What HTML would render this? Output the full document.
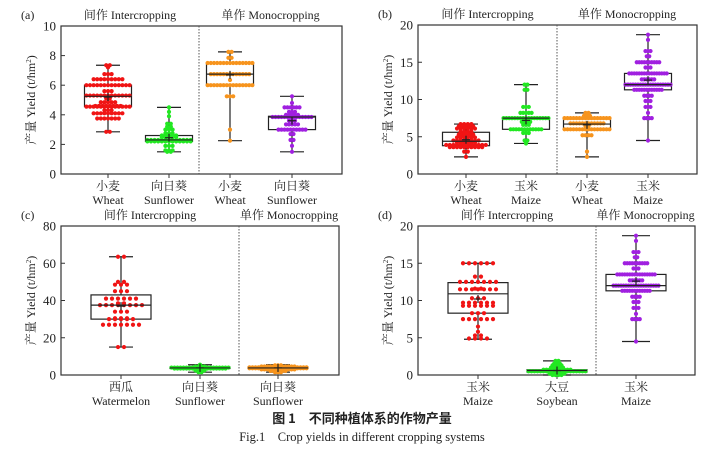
<!DOCTYPE html>
<html><head><meta charset="utf-8"><style>
body{margin:0;background:#fff}
svg{display:block}
text{font-family:"Liberation Serif","Noto Serif CJK SC",serif;fill:#222}
</style></head><body>
<svg id="fig" width="724" height="460" viewBox="0 0 724 460" xmlns="http://www.w3.org/2000/svg">
<text x="362" y="423" text-anchor="middle" font-size="13" font-weight="bold" style="font-family:'Noto Sans CJK SC',sans-serif">图 1　不同种植体系的作物产量</text>
<text x="362" y="441" text-anchor="middle" font-size="12.5">Fig.1　Crop yields in different cropping systems</text>
</svg>
<script>
// ---- data ----
const catsA=[["小麦","Wheat"],["向日葵","Sunflower"],["小麦","Wheat"],["向日葵","Sunflower"]];
const catsB=[["小麦","Wheat"],["玉米","Maize"],["小麦","Wheat"],["玉米","Maize"]];
const catsC=[["西瓜","Watermelon"],["向日葵","Sunflower"],["向日葵","Sunflower"]];
const catsD=[["玉米","Maize"],["大豆","Soybean"],["玉米","Maize"]];
// box stats [min,q1,median,q3,max,mean]
const boxA=[[2.85,4.55,5.25,6.0,7.35,5.2],[1.5,2.2,2.3,2.6,4.5,2.45],[2.25,6.05,6.75,7.5,8.25,6.7],[1.5,3.0,3.85,3.9,5.25,3.6]];
const boxB=[[2.3,3.8,4.4,5.6,6.7,4.6],[4.1,6.0,7.5,7.5,12,7.2],[2.3,6.0,6.7,7.5,8.2,6.6],[4.5,11.3,12.0,13.5,18.7,12.6]];
const boxC=[[15,30,37.5,43,63.5,37],[1.5,3.5,3.8,4.2,5.5,3.8],[1.5,3.5,3.8,4.2,5.5,3.8]];
const boxD=[[4.8,8.3,10.9,12.4,15,10.2],[0,0.4,0.6,0.7,1.9,0.6],[4.5,11.3,12.0,13.5,18.7,12.6]];
// dot values as [value,count]
const dotsA=[
[[7.35,2],[7.2,1],[6.75,3],[6.4,9],[6.0,13],[5.6,3],[5.3,13],[5.1,2],[4.85,5],[4.6,8],[4.55,13],[4.3,3],[4.1,9],[3.75,7],[2.85,2]],
[[4.5,1],[4.2,1],[3.9,1],[3.4,2],[3.2,2],[3.0,3],[2.75,3],[2.6,5],[2.5,5],[2.3,13],[2.2,13],[1.9,3],[1.6,3],[1.5,2]],
[[8.25,2],[7.85,2],[7.5,15],[6.75,13],[6.35,1],[6.0,15],[5.25,3],[3.0,1],[2.25,1]],
[[5.25,1],[4.8,1],[4.5,6],[4.2,3],[4.0,5],[3.85,14],[3.6,3],[3.35,5],[3.0,10],[2.7,2],[2.3,2],[1.9,1],[1.5,1]]];
const dotsB=[
[[6.7,4],[6.4,5],[6.1,6],[5.7,4],[5.3,5],[4.9,6],[4.5,8],[4.2,6],[3.9,12],[3.6,10],[3.0,2],[2.3,1]],
[[12,2],[11.3,2],[9,3],[8.2,5],[7.5,17],[7.0,4],[6.6,3],[6.0,12],[5.5,3],[4.5,2],[4.1,1]],
[[8.2,2],[7.8,3],[7.5,16],[6.8,12],[6.4,2],[6.0,16],[5.2,4],[3.0,1],[2.3,1]],
[[18.7,1],[18,1],[16.5,3],[15.8,2],[15,10],[14.3,3],[13.5,16],[12.7,6],[12.0,19],[11.3,12],[10.5,4],[9.8,3],[9.0,3],[8.2,1],[7.5,4],[4.5,1]]];
const dotsC=[
[[63.5,2],[50,2],[48.5,3],[45,3],[41,6],[38.5,2],[37.5,8],[34,3],[30.5,3],[30,5],[27,7],[15,2]],
[[5.5,1],[4.5,4],[4.0,20],[3.5,18],[2.5,4],[1.5,2]],
[[5.2,3],[4.6,12],[4.1,20],[3.6,20],[3.0,12],[2.2,6],[1.5,3]]];
const dotsD=[
[[15,6],[13.2,2],[12.5,7],[11.6,2],[11.5,7],[10.3,3],[9.7,6],[9.3,6],[8.3,3],[7.5,6],[6.5,1],[5.8,1],[5.3,2],[4.9,4]],
[[1.9,2],[1.5,3],[1.3,4],[1.0,5],[0.7,10],[0.5,20],[0.2,6],[0,4]],
[[18.7,1],[18,1],[16.5,3],[15.8,2],[15,10],[14.3,3],[13.5,16],[12.7,6],[12.0,19],[11.3,12],[10.5,4],[9.8,3],[9.0,3],[8.2,1],[7.5,4],[4.5,1]]];
const ticksA=[0,2,4,6,8,10], ticksB=[0,5,10,15,20], ticksC=[0,20,40,60,80], ticksD=[0,5,10,15,20];

// ---- layout ----
const RED="#f01414",GREEN="#22e822",ORANGE="#f7941d",PURPLE="#a020e0";
const panels=[
 {id:"a",L:61,R:342,T:26,B:174,max:10,ticks:ticksA,cats:catsA,box:boxA,dots:dotsA,cx:[108,169,230,292],div:199,bw:47,cap:24,col:[RED,GREEN,ORANGE,PURPLE],sp:[3.6,3.6,3.2,3.0]},
 {id:"b",L:418,R:697,T:25,B:174,max:20,ticks:ticksB,cats:catsB,box:boxB,dots:dotsB,cx:[466,526,587,648],div:557,bw:47,cap:24,col:[RED,GREEN,ORANGE,PURPLE],sp:[3.6,2.8,3.0,2.5]},
 {id:"c",L:61,R:339,T:226,B:375,max:80,ticks:ticksC,cats:catsC,box:boxC,dots:dotsC,cx:[121,200,278],div:239,bw:60,cap:24,col:[RED,GREEN,ORANGE],sp:[6,3,3]},
 {id:"d",L:418,R:695,T:226,B:375,max:20,ticks:ticksD,cats:catsD,box:boxD,dots:dotsD,cx:[478,557,636],div:596,bw:60,cap:28,col:[RED,GREEN,PURPLE],sp:[6,3,2.5]}];
const svg=document.getElementById("fig"),NS="http://www.w3.org/2000/svg";
function mk(tag,at,parent){const e=document.createElementNS(NS,tag);for(const k in at)e.setAttribute(k,at[k]);(parent||svg).appendChild(e);return e;}
panels.forEach(p=>{
 const g=mk("g",{});
 
 
 const y=v=>p.B-(v/p.max)*(p.B-p.T);
 const fr=mk("rect",{x:p.L,y:p.T,width:p.R-p.L,height:p.B-p.T,fill:"none",stroke:"#333","stroke-width":1.2},g);
 
 
 const dv=mk("line",{x1:p.div,x2:p.div,y1:p.T,y2:p.B,stroke:"#555","stroke-dasharray":"1.5,1.5"},g);
 
 
 const pl=mk("text",{x:p.L-40,y:p.T-7,"font-size":12},g);pl.textContent="("+p.id+")";
 
 
 const h1=mk("text",{x:(p.L+p.div)/2,y:p.T-7,"text-anchor":"middle","font-size":12},g);h1.textContent="间作 Intercropping";
 
 
 const h2=mk("text",{x:(p.div+p.R)/2,y:p.T-7,"text-anchor":"middle","font-size":12},g);h2.textContent="单作 Monocropping";
 
 
 const yt=mk("text",{x:0,y:0,"text-anchor":"middle","font-size":12,fill:"#444",transform:`translate(${p.L-26},${(p.T+p.B)/2}) rotate(-90)`},g);
 yt.innerHTML='产量 Yield (t/hm<tspan baseline-shift="super" font-size="7">2</tspan>)';
 
 
 p.ticks.forEach(t=>{
  const tl=mk("line",{x1:p.L,x2:p.L+4,y1:y(t),y2:y(t),stroke:"#333"},g);
  
  
  const tx=mk("text",{x:p.L-5,y:y(t)+4.5,"text-anchor":"end","font-size":13},g);tx.textContent=t;
  
  
 });
 p.cats.forEach((c,i)=>{
  const x=p.cx[i],b=p.box[i],col=p.col[i];
  const xt=mk("line",{x1:x,x2:x,y1:p.B,y2:p.B+4,stroke:"#333"},g);
  
  
  const l1=mk("text",{x:x,y:p.B+16,"text-anchor":"middle","font-size":12},g);l1.textContent=c[0];
  
  
  const l2=mk("text",{x:x,y:p.B+30,"text-anchor":"middle","font-size":12},g);l2.textContent=c[1];
  
  
  const bg=mk("g",{stroke:"#222","stroke-width":1.2,fill:"none"},g);
  
  
  mk("line",{x1:x,x2:x,y1:y(b[0]),y2:y(b[1])},bg);
  mk("line",{x1:x,x2:x,y1:y(b[3]),y2:y(b[4])},bg);
  mk("line",{x1:x-p.cap/2,x2:x+p.cap/2,y1:y(b[0]),y2:y(b[0])},bg);
  mk("line",{x1:x-p.cap/2,x2:x+p.cap/2,y1:y(b[4]),y2:y(b[4])},bg);
  mk("rect",{x:x-p.bw/2,y:y(b[3]),width:p.bw,height:Math.max(0.5,y(b[1])-y(b[3]))},bg);
  const dg=mk("g",{fill:col},g);
  
  
  p.dots[i].forEach(([v,n])=>{
   for(let k=0;k<n;k++){
    const d=mk("circle",{cx:x+(k-(n-1)/2)*p.sp[i],cy:y(v),r:2.1},dg);
    
    
   }
  });
  const mg=mk("g",{stroke:"#222","stroke-width":1.2},g);
  
  
  mk("line",{x1:x-p.bw/2,x2:x+p.bw/2,y1:y(b[2]),y2:y(b[2])},mg);
  mk("line",{x1:x-4,x2:x+4,y1:y(b[5]),y2:y(b[5])},mg);
  mk("line",{x1:x,x2:x,y1:y(b[5])-4,y2:y(b[5])+4},mg);
 });
});
</script>
</body></html>
